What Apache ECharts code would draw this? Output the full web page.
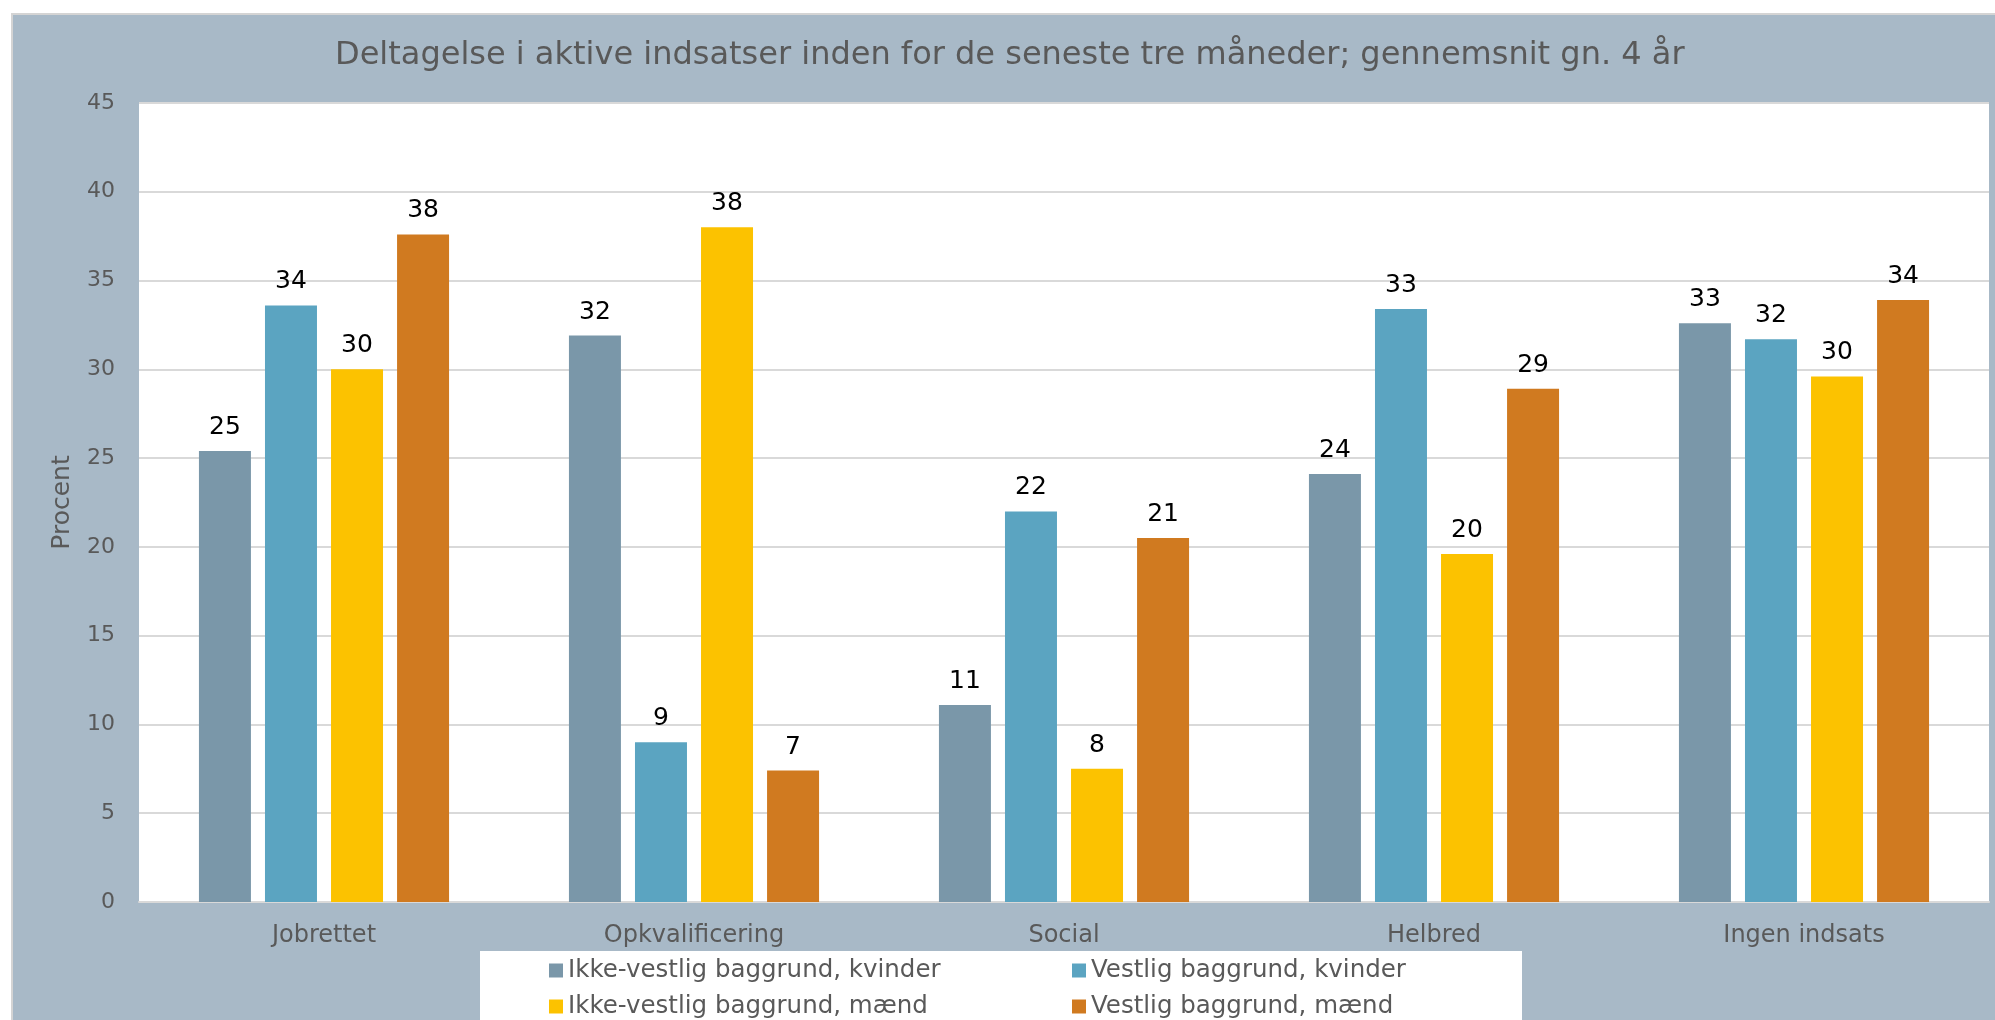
<!DOCTYPE html>
<html>
<head>
<meta charset="utf-8">
<script src="https://cdn.jsdelivr.net/npm/echarts@6/dist/echarts.min.js"></script>
<style>
  html, body { margin: 0; padding: 0; background: #ffffff; }
  #chart { width: 1995px; height: 1020px; }
</style>
</head>
<body>
<div id="chart"></div>
<script>
const titleText = 'Deltagelse i aktive indsatser inden for de seneste tre måneder; gennemsnit gn. 4 år';
const categories = ['Jobrettet', 'Opkvalificering', 'Social', 'Helbred', 'Ingen indsats'];
const seriesNames = [
  'Ikke-vestlig baggrund, kvinder',
  'Vestlig baggrund, kvinder',
  'Ikke-vestlig baggrund, mænd',
  'Vestlig baggrund, mænd'
];
const ikkeVestligKvinder = [25.4, 31.9, 11.1, 24.1, 32.6];
const vestligKvinder     = [33.6, 9.0, 22.0, 33.4, 31.7];
const ikkeVestligMaend   = [30.0, 38.0, 7.5, 19.6, 29.6];
const vestligMaend       = [37.6, 7.4, 20.5, 28.9, 33.9];
const yTicks = { min: 0, max: 45, interval: 5 };
const yAxisName = 'Procent';

const colors = ['#7A97A9', '#5BA4C1', '#FCC200', '#D07A20'];
const allValues = [ikkeVestligKvinder, vestligKvinder, ikkeVestligMaend, vestligMaend];
const textGray = '#595959';
const FONT = 'DejaVu Sans';

const chart = echarts.init(document.getElementById('chart'));

const series = seriesNames.map((name, i) => ({
  name: name,
  type: 'bar',
  data: allValues[i],
  barWidth: 52,
  barGap: '27%',
  itemStyle: { color: colors[i] },
  label: {
    show: true,
    position: 'top',
    distance: 11,
    color: '#000000',
    fontFamily: FONT,
    fontSize: 25,
    formatter: p => Math.round(p.value)
  }
}));

const legendPos = [
  { left: 549, top: 958 },
  { left: 1072, top: 958 },
  { left: 549, top: 994 },
  { left: 1072, top: 994 }
];
const legends = seriesNames.map((name, i) => ({
  orient: 'horizontal',
  left: legendPos[i].left,
  top: legendPos[i].top,
  padding: 0,
  itemWidth: 14,
  itemHeight: 14,
  icon: 'rect',
  selectedMode: false,
  data: [name],
  textStyle: { color: textGray, fontFamily: FONT, fontSize: 24.5, lineHeight: 24 }
}));

chart.setOption({
  backgroundColor: '#ffffff',
  animation: false,
  graphic: [
    {
      type: 'rect',
      z: -10,
      shape: { x: 12, y: 14, width: 2000, height: 1020 },
      style: { fill: '#A8B9C7', stroke: '#D4D4D4', lineWidth: 2 }
    },
    {
      type: 'rect',
      z: -5,
      shape: { x: 480, y: 951, width: 1042, height: 80 },
      style: { fill: '#ffffff' }
    }
  ],
  title: {
    text: titleText,
    left: 335,
    top: 40,
    padding: 0,
    textStyle: { color: textGray, fontFamily: FONT, fontSize: 32, fontWeight: 'normal' }
  },
  legend: legends,
  grid: {
    left: 139, right: 6, top: 103, bottom: 118,
    show: true, backgroundColor: '#ffffff', borderWidth: 0
  },
  xAxis: {
    type: 'category',
    data: categories,
    axisLine: { show: true, lineStyle: { color: '#D9D9D9', width: 2 } },
    axisTick: { show: false },
    axisLabel: { color: textGray, fontFamily: FONT, fontSize: 24, lineHeight: 24, margin: 22 }
  },
  yAxis: {
    type: 'value',
    min: yTicks.min,
    max: yTicks.max,
    interval: yTicks.interval,
    name: yAxisName,
    nameLocation: 'middle',
    nameGap: 64,
    nameTextStyle: { color: textGray, fontFamily: FONT, fontSize: 25 },
    axisLine: { show: false },
    axisTick: { show: false },
    axisLabel: { color: textGray, fontFamily: FONT, fontSize: 22, margin: 24 },
    splitLine: { lineStyle: { color: '#D9D9D9', width: 2 } }
  },
  series: series
});
</script>
</body>
</html>
